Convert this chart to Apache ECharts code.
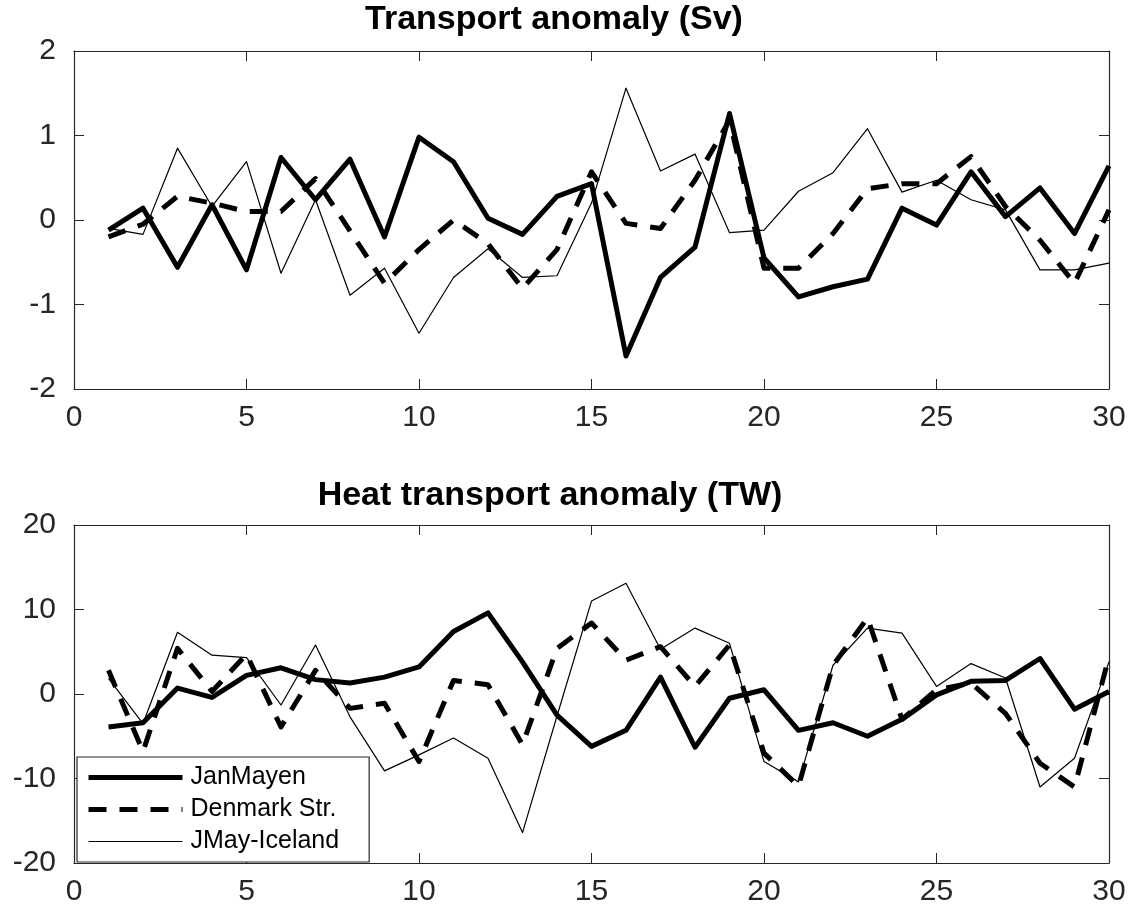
<!DOCTYPE html>
<html>
<head>
<meta charset="utf-8">
<title>Transport anomalies</title>
<script src="https://cdn.jsdelivr.net/npm/echarts@6/dist/echarts.min.js"></script>
<style>
  html, body { margin: 0; padding: 0; background: #fff; }
  #chart { width: 1133px; height: 915px; }
</style>
</head>
<body>
<div id="chart"></div>
<script>
// Years 1..30
const years = [1,2,3,4,5,6,7,8,9,10,11,12,13,14,15,16,17,18,19,20,21,22,23,24,25,26,27,28,29,30];

// Volume transport anomaly (Sv)
const volJanMayen = [-0.12,0.14,-0.56,0.18,-0.59,0.74,0.24,0.72,-0.2,0.98,0.69,0.02,-0.17,0.28,0.43,-1.61,-0.68,-0.32,1.26,-0.45,-0.91,-0.79,-0.7,0.14,-0.06,0.57,0.04,0.38,-0.16,0.64];
const volDenmark  = [-0.2,-0.05,0.28,0.2,0.1,0.1,0.49,-0.13,-0.75,-0.35,0.0,-0.28,-0.81,-0.35,0.57,-0.04,-0.1,0.47,1.18,-0.57,-0.57,-0.16,0.37,0.43,0.43,0.75,0.16,-0.24,-0.75,0.12];
const volJMayIce  = [-0.1,-0.17,0.85,0.16,0.69,-0.63,0.24,-0.89,-0.57,-1.34,-0.68,-0.34,-0.68,-0.66,0.2,1.56,0.58,0.78,-0.15,-0.12,0.34,0.56,1.08,0.33,0.47,0.24,0.12,-0.59,-0.59,-0.51];

// Heat transport anomaly (TW)
const heatJanMayen = [-3.9,-3.4,0.7,-0.4,2.2,3.1,1.7,1.3,2.0,3.2,7.4,9.6,3.8,-2.5,-6.2,-4.3,2.0,-6.3,-0.5,0.5,-4.3,-3.4,-5.0,-3.0,-0.1,1.5,1.6,4.2,-1.8,0.3];
const heatDenmark  = [2.8,-6.8,5.4,0.3,4.7,-3.9,2.8,-1.7,-1.1,-8.0,1.6,1.1,-6.0,5.4,8.4,4.0,5.6,0.9,5.8,-7.0,-10.9,3.4,9.0,-3.0,0.5,1.3,-2.3,-8.2,-11.0,4.4];
const heatJMayIce  = [1.85,-3.5,7.3,4.6,4.3,-1.3,5.8,-2.7,-9.1,-7.2,-5.2,-7.6,-16.4,-2.6,11.0,13.1,5.3,7.8,6.0,-8.0,-10.4,3.4,7.8,7.2,0.9,3.6,1.9,-11.0,-7.6,3.8];

const xTicks = [0, 30, 5];          // min, max, interval
const volTicks = [-2, 2, 1];
const heatTicks = [-20, 20, 10];

const seriesNames = ['JanMayen', 'Denmark Str.', 'JMay-Iceland'];
const titles = ['Transport anomaly (Sv)', 'Heat transport anomaly (TW)'];

const FONT = '"Liberation Sans", Arial, Helvetica, sans-serif';
const AXIS = '#262626';

const pairs = d => years.map((x, i) => [x, d[i]]);

// thick solid, thick dashed, thin solid
const styles = [
  { width: 5, type: 'solid' },
  { width: 5, type: [18, 13] },
  { width: 1.2, type: 'solid' }
];

function xAxisPair(gridIndex) {
  const base = {
    gridIndex, type: 'value', min: xTicks[0], max: xTicks[1], interval: xTicks[2],
    axisLine: { show: true, onZero: false, lineStyle: { color: AXIS, width: 1.2 } },
    axisTick: { show: true, inside: true, length: 10, lineStyle: { color: AXIS, width: 1 } },
    splitLine: { show: false }
  };
  return [
    Object.assign({}, base, { position: 'bottom',
      axisLabel: { show: true, color: AXIS, fontSize: 30, fontFamily: FONT, margin: 14 } }),
    Object.assign({}, base, { position: 'top', axisLabel: { show: false } })
  ];
}

function yAxisPair(gridIndex, ticks) {
  const base = {
    gridIndex, type: 'value', min: ticks[0], max: ticks[1], interval: ticks[2],
    axisLine: { show: true, onZero: false, lineStyle: { color: AXIS, width: 1.2 } },
    axisTick: { show: true, inside: true, length: 10, lineStyle: { color: AXIS, width: 1 } },
    splitLine: { show: false }
  };
  return [
    Object.assign({}, base, { position: 'left',
      axisLabel: { show: true, color: AXIS, fontSize: 30, fontFamily: FONT, margin: 18 } }),
    Object.assign({}, base, { position: 'right', axisLabel: { show: false } })
  ];
}

function lineSeries(name, data, idx, axisIdx) {
  return {
    name, type: 'line', data: pairs(data),
    xAxisIndex: axisIdx, yAxisIndex: axisIdx,
    symbol: 'none', smooth: false,
    lineStyle: Object.assign({ color: '#000', cap: 'butt', join: 'round' }, styles[idx]),
    itemStyle: { color: '#000' },
    emphasis: { disabled: true },
    z: 3 - idx
  };
}

const option = {
  animation: false,
  backgroundColor: '#fff',
  title: [
    { text: titles[0], left: 554, top: 3, textAlign: 'center', padding: 0,
      textStyle: { fontSize: 34, fontWeight: 'bold', color: '#000', fontFamily: FONT } },
    { text: titles[1], left: 550, top: 479, textAlign: 'center', padding: 0,
      textStyle: { fontSize: 34, fontWeight: 'bold', color: '#000', fontFamily: FONT } }
  ],
  grid: [
    { left: 74, right: 24, top: 51, height: 338, containLabel: false },
    { left: 74, right: 24, top: 525, height: 338, containLabel: false }
  ],
  xAxis: [].concat(xAxisPair(0), xAxisPair(1)),
  yAxis: [].concat(yAxisPair(0, volTicks), yAxisPair(1, heatTicks)),
  legend: {
    data: seriesNames.map((name, i) => ({
      name,
      lineStyle: { color: '#000', width: styles[i].width, type: styles[i].type, cap: 'butt' },
      itemStyle: { opacity: 0 }
    })),
    orient: 'vertical',
    left: 77, top: 757,
    padding: [8, 30, 8, 9],
    itemWidth: 94, itemHeight: 14, itemGap: 7,
    backgroundColor: '#fff',
    borderColor: AXIS, borderWidth: 1.2, borderRadius: 0,
    selectedMode: false,
    z: 10,
    textStyle: { fontSize: 25, color: '#000', fontFamily: FONT, padding: [0, 0, 0, 3] }
  },
  series: [
    lineSeries(seriesNames[0], volJanMayen, 0, 0),
    lineSeries(seriesNames[1], volDenmark, 1, 0),
    lineSeries(seriesNames[2], volJMayIce, 2, 0),
    lineSeries(seriesNames[0], heatJanMayen, 0, 2),
    lineSeries(seriesNames[1], heatDenmark, 1, 2),
    lineSeries(seriesNames[2], heatJMayIce, 2, 2)
  ]
};

const chart = echarts.init(document.getElementById('chart'), null, { renderer: 'canvas' });
chart.setOption(option);
</script>
</body>
</html>
